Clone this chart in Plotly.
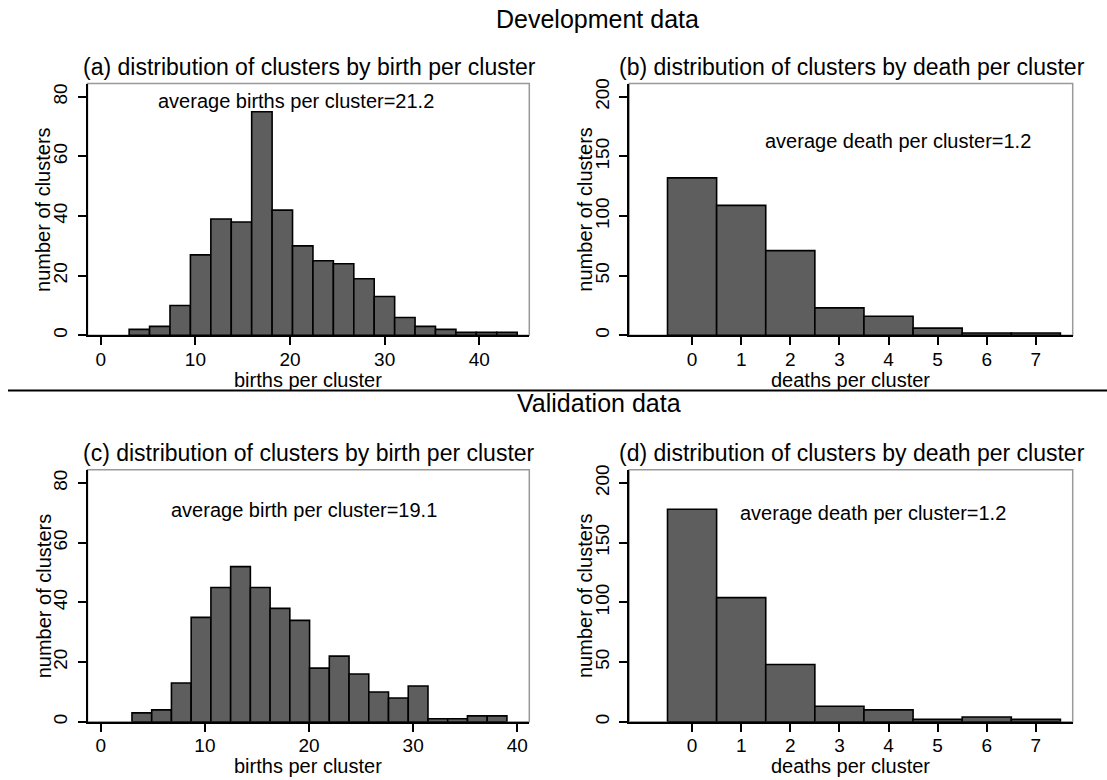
import numpy as np
import plotly.graph_objects as go

# ---- data -------------------------------------------------------------
# births per cluster: 19 equal-width bins between the bin limits
dev_birth_lo, dev_birth_hi = 3, 44
dev_birth_counts = [2, 3, 10, 27, 39, 38, 75, 42, 30, 25, 24, 19, 13, 6, 3, 2, 1, 1, 1]
val_birth_lo, val_birth_hi = 3, 39
val_birth_counts = [3, 4, 13, 35, 45, 52, 45, 38, 34, 18, 22, 16, 10, 8, 12, 1, 1, 2, 2]

# deaths per cluster: one bar per integer count
deaths = [0, 1, 2, 3, 4, 5, 6, 7]
dev_death_counts = [132, 109, 71, 23, 16, 6, 2, 2]
val_death_counts = [178, 104, 48, 13, 10, 2, 4, 2]

birth_ticks = [0, 10, 20, 30, 40]
birth_yticks = [0, 20, 40, 60, 80]
death_yticks = [0, 50, 100, 150, 200]

titles = [
    "(a) distribution of clusters by birth per cluster",
    "(b) distribution of clusters by death per cluster",
    "(c) distribution of clusters by birth per cluster",
    "(d) distribution of clusters by death per cluster",
]
notes = [
    "average births per cluster=21.2",
    "average death per cluster=1.2",
    "average birth per cluster=19.1",
    "average death per cluster=1.2",
]

# ---- layout helpers ---------------------------------------------------
W, H = 1107, 780
FONT = "Liberation Sans, Arial, sans-serif"
BAR_FILL = "#5e5e5e"


def fx(px):
    return px / W


def fy(py):
    return 1 - py / H


def hist_bins(lo, hi, counts):
    edges = np.linspace(lo, hi, len(counts) + 1)
    centers = (edges[:-1] + edges[1:]) / 2
    widths = np.diff(edges)
    return centers, widths


fig = go.Figure()

# panel geometry (pixel boxes) and axis ranges
panels = [
    dict(ax="", px=(87.5, 529.3), py=(79.3, 333.3), xr=[-1.4, 45.28], yr=[0, 84.45],
         xt=birth_ticks, yt=birth_yticks, xlab="births per cluster"),
    dict(ax="2", px=(629.2, 1072.7), py=(79.3, 333.3), xr=[-1.28, 7.75], yr=[0, 211.1],
         xt=deaths, yt=death_yticks, xlab="deaths per cluster"),
    dict(ax="3", px=(87.5, 529.3), py=(469.0, 723.3), xr=[-1.27, 41.15], yr=[0, 84.45],
         xt=birth_ticks, yt=birth_yticks, xlab="births per cluster"),
    dict(ax="4", px=(629.2, 1072.7), py=(469.0, 723.3), xr=[-1.28, 7.75], yr=[0, 211.1],
         xt=deaths, yt=death_yticks, xlab="deaths per cluster"),
]

bar_style = dict(color=BAR_FILL, line=dict(color="black", width=1.6))

c, w = hist_bins(dev_birth_lo, dev_birth_hi, dev_birth_counts)
fig.add_trace(go.Bar(x=c, y=dev_birth_counts, width=w, marker=bar_style, xaxis="x", yaxis="y"))
fig.add_trace(go.Bar(x=deaths, y=dev_death_counts, width=[1] * len(deaths), marker=bar_style,
                     xaxis="x2", yaxis="y2"))
c, w = hist_bins(val_birth_lo, val_birth_hi, val_birth_counts)
fig.add_trace(go.Bar(x=c, y=val_birth_counts, width=w, marker=bar_style, xaxis="x3", yaxis="y3"))
fig.add_trace(go.Bar(x=deaths, y=val_death_counts, width=[1] * len(deaths), marker=bar_style,
                     xaxis="x4", yaxis="y4"))

axis_common = dict(
    showgrid=False, zeroline=False, showline=True, linecolor="black", linewidth=1.5,
    ticks="outside", ticklen=8, tickwidth=1.5, tickcolor="black",
    tickfont=dict(family=FONT, size=19, color="black"), fixedrange=True,
)

layout = {}
annotations = []
shapes = []
title_y = {79.3: 63, 469.0: 452}
for i, p in enumerate(panels):
    a = p["ax"]
    xname = "xaxis" + a
    yname = "yaxis" + a
    xref = "x" + a
    yref = "y" + a
    layout[xname] = dict(axis_common, domain=[fx(p["px"][0]), fx(p["px"][1])], range=p["xr"],
                         tickvals=p["xt"], anchor=yref, ticklabelstandoff=-2)
    layout[yname] = dict(axis_common, domain=[fy(p["py"][1]), fy(p["py"][0])], range=p["yr"],
                         tickvals=p["yt"], anchor=xref, tickangle=-90, ticklabelstandoff=3)
    # light frame around the plotting region
    shapes.append(dict(type="rect", xref=xref + " domain", yref=yref + " domain",
                       x0=0, x1=1, y0=0, y1=1, line=dict(color="#999999", width=1.5),
                       layer="below"))
    cx = (p["px"][0] + p["px"][1]) / 2
    cy = (p["py"][0] + p["py"][1]) / 2
    # panel title
    annotations.append(dict(text=titles[i], x=fx(cx + 1), y=fy(title_y[p["py"][0]]),
                            xref="paper", yref="paper", showarrow=False,
                            xanchor="center", yanchor="middle",
                            font=dict(family=FONT, size=23, color="black")))
    # x axis title
    annotations.append(dict(text=p["xlab"], x=fx(cx), y=fy(p["py"][1] + 45),
                            xref="paper", yref="paper", showarrow=False,
                            xanchor="center", yanchor="middle",
                            font=dict(family=FONT, size=20, color="black")))
    # y axis title
    annotations.append(dict(text="number of clusters", x=fx(p["px"][0] - 44), y=fy(cy),
                            xref="paper", yref="paper", showarrow=False, textangle=-90,
                            xanchor="center", yanchor="middle",
                            font=dict(family=FONT, size=20, color="black")))

# in-panel notes
note_pos = [(296, 97), (897.6, 137.5), (304, 510), (873, 512.3)]
for txt, (nx, ny) in zip(notes, note_pos):
    annotations.append(dict(text=txt, x=fx(nx), y=fy(ny), xref="paper", yref="paper",
                            showarrow=False, xanchor="center", yanchor="middle",
                            font=dict(family=FONT, size=20, color="black")))

# section headings
annotations.append(dict(text="Development data", x=fx(597), y=fy(14), xref="paper", yref="paper",
                        showarrow=False, xanchor="center", yanchor="middle",
                        font=dict(family=FONT, size=25, color="black")))
annotations.append(dict(text="Validation data", x=fx(599), y=fy(402), xref="paper", yref="paper",
                        showarrow=False, xanchor="center", yanchor="middle",
                        font=dict(family=FONT, size=25, color="black")))

# separator between the two sections
shapes.append(dict(type="line", xref="paper", yref="paper", x0=fx(8), x1=1,
                   y0=fy(389), y1=fy(389), line=dict(color="black", width=2)))

fig.update_layout(
    width=W, height=H, margin=dict(l=0, r=0, t=0, b=0),
    paper_bgcolor="white", plot_bgcolor="white",
    showlegend=False, annotations=annotations, shapes=shapes,
    font=dict(family=FONT, color="black"),
    **layout,
)

fig.write_html("out.html", config={"displayModeBar": False})
